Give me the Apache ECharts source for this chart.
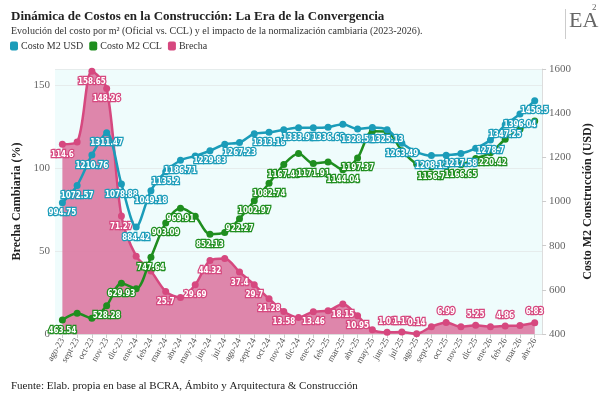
<!DOCTYPE html>
<html><head><meta charset="utf-8">
<script src="https://cdn.jsdelivr.net/npm/echarts@6/dist/echarts.min.js"></script>
<style>html,body{margin:0;padding:0;background:#fff}#c{width:602px;height:395px}</style>
</head><body><div id="c"></div>
<script>
const categories = ['ago-23','sept-23','oct-23','nov-23','dic-23','ene-24','feb-24','mar-24','abr-24','may-24','jun-24','jul-24','ago-24','sept-24','oct-24','nov-24','dic-24','ene-25','feb-25','mar-25','abr-25','may-25','jun-25','jul-25','ago-25','sept-25','oct-25','nov-25','dic-25','ene-26','feb-26','mar-26','abr-26'];
const costoUSD = [994.75,1072.57,1210.76,1311.47,1078.88,884.42,1049.18,1135.2,1186.71,1206,1229.83,1259,1267.23,1307,1313.18,1325,1333.97,1334,1336.68,1350,1328.52,1335,1325.13,1263.49,1224,1208.12,1210,1217.58,1241,1278.7,1347.25,1396.04,1456.5];
const costoCCL = [463.54,494,471,528.28,629.93,604.5,747.64,903.09,969.91,933,852.13,860,922.27,1002.97,1082.74,1167.48,1217,1171.91,1179,1144.04,1197.37,1318,1316,1230,1170,1156.7,1160,1166.65,1195,1220.42,1282,1327,1365];
const brecha = [114.6,116,158.65,148.26,71.27,47,38,25.7,22,29.69,44.32,45.6,37.4,29.7,21.28,13.58,10,13.46,14,18.15,10.95,2.5,1.01,1.15,0.14,4.4,6.99,4.4,5.25,4.4,4.86,5.2,6.83];
const leftTicks = {min:0, max:160, interval:50};
const rightTicks = {min:400, max:1600, interval:200};
// indices whose value labels are visible (the rest are hidden as overlapping, like in the original)
const labeledUSD = [0,1,2,3,4,5,6,7,8,10,12,14,16,18,20,22,23,25,27,29,30,31,32];
const labeledCCL = [0,3,4,6,7,8,10,12,13,14,15,17,19,20,25,27,29];
const labeledBrecha = [0,2,3,4,7,9,10,12,13,14,15,17,19,20,22,23,24,26,28,30,32];

const SERIF = '"Liberation Serif", "DejaVu Serif", serif';
const C_USD = '#1b9cb9', C_CCL = '#1f8e1f', C_BR = '#d6487f';
function lbl(color){
  return {show:true, position:'bottom', distance:3, color:'#fff', fontFamily:'"DejaVu Sans Condensed", Roboto, sans-serif', fontWeight:'bold', fontSize:8,
    textBorderColor:color, textBorderWidth:2.5};
}
function withLabels(arr, shown, posFn){
  return arr.map((v,i) => ({value:v, label:{show: shown.indexOf(i) >= 0, position: posFn ? posFn(v) : 'bottom'}}));
}
const chart = echarts.init(document.getElementById('c'), null, {renderer:'canvas'});
chart.setOption({
  animation:false,
  backgroundColor:'#fff',
  title:[
    {text:'Dinámica de Costos en la Construcción: La Era de la Convergencia', left:6, top:5,
     textStyle:{fontFamily:SERIF, fontWeight:'bold', fontSize:13, color:'#222'}},
    {text:'Evolución del costo por m² (Oficial vs. CCL) y el impacto de la normalización cambiaria (2023-2026).', left:6, top:21,
     textStyle:{fontFamily:SERIF, fontWeight:'normal', fontSize:10, color:'#333'}},
    {text:'Fuente: Elab. propia en base al BCRA, Ámbito y Arquitectura & Construcción', left:6, top:376,
     textStyle:{fontFamily:SERIF, fontWeight:'normal', fontSize:11, color:'#222'}}
  ],
  graphic:[
    {type:'text', left:569, top:10, style:{text:'EA', fontFamily:SERIF, fontSize:22, fill:'#666'}},
    {type:'text', left:592, top:3, style:{text:'2', fontFamily:SERIF, fontSize:9, fill:'#666'}},
    {type:'rect', left:565, top:9, shape:{width:1, height:30}, style:{fill:'#ccc'}}
  ],
  legend:{left:5, top:36, itemWidth:8, itemHeight:9, itemGap:6, icon:'roundRect',
    textStyle:{fontFamily:SERIF, fontSize:10, color:'#333', padding:[0,0,0,-2]},
    data:['Costo M2 USD','Costo M2 CCL','Brecha']},
  grid:{left:55, right:57, top:69, bottom:61, show:true, backgroundColor:'#effcfc', borderWidth:0},
  xAxis:{type:'category', data:categories, boundaryGap:true,
    axisLine:{show:true, lineStyle:{color:'#ddd'}},
    axisTick:{show:true, alignWithLabel:true, length:4, lineStyle:{color:'#ccc'}},
    axisLabel:{rotate:60, interval:0, fontFamily:SERIF, fontSize:9, color:'#555', margin:5}},
  yAxis:[
    {type:'value', min:leftTicks.min, max:leftTicks.max, interval:leftTicks.interval, name:'Brecha Cambiaria (%)',
     nameLocation:'middle', nameGap:29, nameTextStyle:{fontFamily:SERIF, fontWeight:'bold', fontSize:12, color:'#222'},
     axisLine:{show:false}, axisTick:{show:false},
     axisLabel:{fontFamily:SERIF, fontSize:11, color:'#666', margin:5, showMaxLabel:false},
     splitLine:{show:true, lineStyle:{color:'#e6ecec'}}},
    {type:'value', min:rightTicks.min, max:rightTicks.max, interval:rightTicks.interval, name:'Costo M2 Construcción (USD)',
     nameLocation:'middle', nameGap:33, nameTextStyle:{fontFamily:SERIF, fontWeight:'bold', fontSize:12, color:'#222'},
     axisLine:{show:true, lineStyle:{color:'#ddd'}}, axisTick:{show:true, length:4, lineStyle:{color:'#ccc'}},
     axisLabel:{fontFamily:SERIF, fontSize:11, color:'#666', margin:7, formatter: v => String(v)},
     splitLine:{show:false}}
  ],
  series:[
    {name:'Costo M2 USD', type:'line', yAxisIndex:1, data:withLabels(costoUSD, labeledUSD), smooth:0.3, symbol:'circle', symbolSize:7,
     itemStyle:{color:C_USD}, lineStyle:{width:2.5, color:C_USD}, label:lbl(C_USD), z:4},
    {name:'Costo M2 CCL', type:'line', yAxisIndex:1, data:withLabels(costoCCL, labeledCCL), smooth:0.3, symbol:'circle', symbolSize:7,
     itemStyle:{color:C_CCL}, lineStyle:{width:2.5, color:C_CCL}, label:lbl(C_CCL), z:3},
    {name:'Brecha', type:'line', yAxisIndex:0,
     data:withLabels(brecha, labeledBrecha, v => v < 8 ? 'top' : 'bottom'),
     smooth:0.3, symbol:'circle', symbolSize:7,
     itemStyle:{color:C_BR}, lineStyle:{width:2.5, color:C_BR}, areaStyle:{color:'#dc80a6', opacity:0.95},
     label:lbl(C_BR), z:2}
  ]
});
</script></body></html>
